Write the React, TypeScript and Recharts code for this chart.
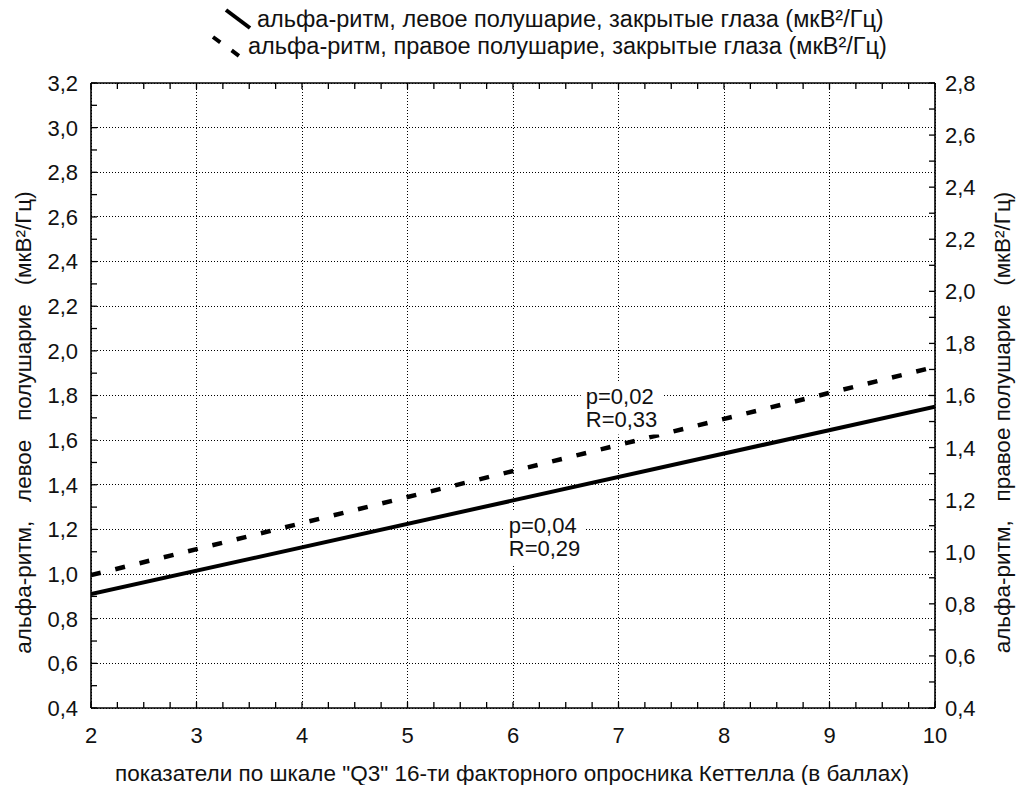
import React from 'react';
import { LineChart, Line, XAxis, YAxis, CartesianGrid, Legend, ReferenceDot } from 'recharts';

// ---- data ----
const xPoints = [2, 10];
const leftHemisphere = [0.91, 1.75];
const rightHemisphere = [0.91, 1.71];

const xTicks = [2, 3, 4, 5, 6, 7, 8, 9, 10];
const xMinorTicks = [2, 2.25, 2.5, 2.75, 3, 3.25, 3.5, 3.75, 4, 4.25, 4.5, 4.75, 5, 5.25, 5.5, 5.75, 6, 6.25, 6.5, 6.75, 7, 7.25, 7.5, 7.75, 8, 8.25, 8.5, 8.75, 9, 9.25, 9.5, 9.75, 10];
const leftTicks = [0.4, 0.6, 0.8, 1.0, 1.2, 1.4, 1.6, 1.8, 2.0, 2.2, 2.4, 2.6, 2.8, 3.0, 3.2];
const leftMinorTicks = [0.4, 0.5, 0.6, 0.7, 0.8, 0.9, 1.0, 1.1, 1.2, 1.3, 1.4, 1.5, 1.6, 1.7, 1.8, 1.9, 2.0, 2.1, 2.2, 2.3, 2.4, 2.5, 2.6, 2.7, 2.8, 2.9, 3.0, 3.1, 3.2];
const rightTicks = [0.4, 0.6, 0.8, 1.0, 1.2, 1.4, 1.6, 1.8, 2.0, 2.2, 2.4, 2.6, 2.8];
const rightMinorTicks = [0.4, 0.5, 0.6, 0.7, 0.8, 0.9, 1.0, 1.1, 1.2, 1.3, 1.4, 1.5, 1.6, 1.7, 1.8, 1.9, 2.0, 2.1, 2.2, 2.3, 2.4, 2.5, 2.6, 2.7, 2.8];

const legendLabels = [
  'альфа-ритм, левое полушарие, закрытые глаза (мкВ²/Гц)',
  'альфа-ритм, правое полушарие, закрытые глаза (мкВ²/Гц)',
];
const xTitle = 'показатели по шкале "Q3" 16-ти факторного опросника Кеттелла (в баллах)';
const leftTitle = 'альфа-ритм,\u00a0\u00a0 левое\u00a0\u00a0 полушарие\u00a0\u00a0 (мкВ²/Гц)';
const rightTitle = 'альфа-ритм,\u00a0\u00a0 правое полушарие\u00a0\u00a0 (мкВ²/Гц)';

const annotationX = [6.69, 5.96];
const annotationY = [1.8, 1.22];
const annotationLines = [
  ['p=0,02', 'R=0,33'],
  ['p=0,04', 'R=0,29'],
];

const data = xPoints.map((x, i) => ({ x, left: leftHemisphere[i], right: rightHemisphere[i] }));

const FONT = "'Liberation Sans', Arial, sans-serif";
const INK = '#111';
const TXT = 22.5;
const LEG = 23.5;
const fmt = (v: number) => v.toFixed(1).replace('.', ',');
const isIn = (list: number[], v: number) => list.some((t) => Math.abs(t - v) < 1e-6);

const TICK_LEN = 6;
const tickStroke = { stroke: '#000', strokeWidth: 1.3 };

// custom ticks: inward tick mark for every (minor) value, label only for major values
const BottomTick = (props: any) => {
  const { x, y, payload } = props;
  const axisY = y - 19;
  return (
    <g>
      <line x1={x} y1={axisY} x2={x} y2={axisY - TICK_LEN} {...tickStroke} />
      {isIn(xTicks, payload.value) && (
        <text x={x} y={y} dy="0.71em" textAnchor="middle" fontFamily={FONT} fontSize={22} fill={INK}>
          {String(payload.value)}
        </text>
      )}
    </g>
  );
};

const TopTick = (props: any) => {
  const { x, y } = props;
  return <line x1={x} y1={y} x2={x} y2={y + TICK_LEN} {...tickStroke} />;
};

const LeftTick = (props: any) => {
  const { x, y, payload } = props;
  const axisX = x + 13;
  return (
    <g>
      <line x1={axisX} y1={y} x2={axisX + TICK_LEN} y2={y} {...tickStroke} />
      {isIn(leftTicks, payload.value) && (
        <text x={x} y={y} dy="0.36em" textAnchor="end" fontFamily={FONT} fontSize={22} fill={INK}>
          {fmt(payload.value)}
        </text>
      )}
    </g>
  );
};

const RightTick = (props: any) => {
  const { x, y, payload } = props;
  const axisX = x - 10;
  return (
    <g>
      <line x1={axisX} y1={y} x2={axisX - TICK_LEN} y2={y} {...tickStroke} />
      {isIn(rightTicks, payload.value) && (
        <text x={x} y={y} dy="0.36em" textAnchor="start" fontFamily={FONT} fontSize={22} fill={INK}>
          {fmt(payload.value)}
        </text>
      )}
    </g>
  );
};

const renderLegend = () => (
  <div style={{ width: 1017, height: 69, position: 'relative' }}>
    <svg width={1017} height={69} style={{ position: 'absolute', left: 0, top: 0 }}>
      <line x1={226} y1={10} x2={250} y2={28} stroke="#000" strokeWidth={4} />
      <text x={257} y={27} fontFamily={FONT} fontSize={LEG} fill={INK}>{legendLabels[0]}</text>
      <line x1={213} y1={37} x2={242} y2={58} stroke="#000" strokeWidth={4} strokeDasharray="9 14" />
      <text x={248} y={54} fontFamily={FONT} fontSize={LEG} fill={INK}>{legendLabels[1]}</text>
    </svg>
  </div>
);

const renderXTitle = (props: any) => {
  const vb = props.viewBox;
  return (
    <text x={vb.x + vb.width / 2 - 1} y={vb.y + 73} textAnchor="middle" fontFamily={FONT} fontSize={TXT} fill={INK}>
      {xTitle}
    </text>
  );
};

const renderLeftTitle = (props: any) => {
  const vb = props.viewBox;
  const x = vb.x + 31;
  const y = vb.y + vb.height / 2 + 27;
  return (
    <text x={x} y={y} transform={`rotate(-90 ${x} ${y})`} textAnchor="middle" fontFamily={FONT} fontSize={TXT} fill={INK}>
      {leftTitle}
    </text>
  );
};

const renderRightTitle = (props: any) => {
  const vb = props.viewBox;
  const x = vb.x + 75;
  const y = vb.y + vb.height / 2 + 27;
  return (
    <text x={x} y={y} transform={`rotate(-90 ${x} ${y})`} textAnchor="middle" fontFamily={FONT} fontSize={TXT} fill={INK}>
      {rightTitle}
    </text>
  );
};

const makeAnnotation = (lines: string[]) => (props: any) => {
  const vb = props.viewBox;
  const cx = vb.x + (vb.width || 0) / 2;
  const cy = vb.y + (vb.height || 0) / 2;
  return (
    <g>
      <rect x={cx - 5} y={cy - 13} width={82} height={52} fill="#fff" />
      <text x={cx} y={cy + 8} fontFamily={FONT} fontSize={22} fill={INK}>{lines[0]}</text>
      <text x={cx} y={cy + 31} fontFamily={FONT} fontSize={22} fill={INK}>{lines[1]}</text>
    </g>
  );
};

const frame = { stroke: '#000', strokeWidth: 1.6 };

export default function App() {
  return (
    <div style={{ position: 'absolute', left: 0, top: 0, width: 1017, height: 785, background: '#fff' }}>
      <LineChart width={1017} height={785} data={data} margin={{ top: 13, right: 0, bottom: 0, left: 0 }}>
        <XAxis xAxisId="x" type="number" dataKey="x" domain={[2, 10]} ticks={xMinorTicks} height={77}
          tickSize={0} tickMargin={19} tickLine={false} axisLine={frame} tick={<BottomTick />} allowDataOverflow interval={0}
          label={renderXTitle} />
        <XAxis xAxisId="top" type="number" dataKey="x" domain={[2, 10]} ticks={xMinorTicks} orientation="top" height={1}
          tickSize={0} tickMargin={0} tickLine={false} axisLine={frame} tick={<TopTick />} allowDataOverflow interval={0} />
        <YAxis yAxisId="left" type="number" domain={[0.4, 3.2]} ticks={leftMinorTicks} width={91}
          tickSize={0} tickMargin={13} tickLine={false} axisLine={frame} tick={<LeftTick />}
          allowDataOverflow interval={0} label={renderLeftTitle} />
        <YAxis yAxisId="right" type="number" orientation="right" domain={[0.4, 2.8]} ticks={rightMinorTicks} width={82}
          tickSize={0} tickMargin={10} tickLine={false} axisLine={frame} tick={<RightTick />}
          allowDataOverflow interval={0} label={renderRightTitle} />

        <CartesianGrid xAxisId="x" yAxisId="left" verticalValues={xTicks} horizontalValues={leftTicks}
          stroke="#000" strokeDasharray="1 2" strokeWidth={1} shapeRendering="crispEdges" />

        <Legend verticalAlign="top" align="left" height={69} content={renderLegend}
          wrapperStyle={{ top: 0, left: 0, width: 1017, height: 69 }} />

        {annotationX.map((ax, i) => (
          <ReferenceDot key={i} xAxisId="x" yAxisId="left" x={ax} y={annotationY[i]} r={0} fill="none" stroke="none"
            ifOverflow="visible" label={makeAnnotation(annotationLines[i])} />
        ))}

        <Line xAxisId="x" yAxisId="left" type="linear" dataKey="left" stroke="#000" strokeWidth={4}
          dot={false} activeDot={false} isAnimationActive={false} legendType="none" />
        <Line xAxisId="x" yAxisId="right" type="linear" dataKey="right" stroke="#000" strokeWidth={4.5}
          strokeDasharray="10 15" dot={false} activeDot={false} isAnimationActive={false} legendType="none" />
      </LineChart>
    </div>
  );
}
